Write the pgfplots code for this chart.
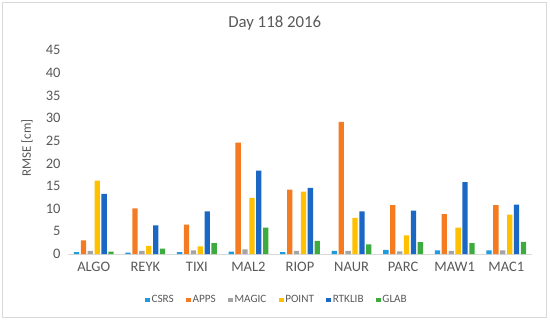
\documentclass[border=0pt]{standalone}
\usepackage{pgfplots}
\pgfplotsset{compat=1.18}
\usepackage{pgfplotstable}
\usepackage{fontspec}
\setmainfont{Carlito}
\definecolor{txt}{HTML}{595959}
\definecolor{cCSRS}{HTML}{1F9BDE}
\definecolor{cAPPS}{HTML}{F57B22}
\definecolor{cMAGIC}{HTML}{A5A5A5}
\definecolor{cPOINT}{HTML}{FFC000}
\definecolor{cRTK}{HTML}{1A68C4}
\definecolor{cGLAB}{HTML}{3DAB3D}
\definecolor{frame}{HTML}{D9D9D9}
\pgfplotstableread{
x CSRS APPS MAGIC POINT RTKLIB GLAB
0 0.4 3.0 0.7 16.2 13.3 0.5
1 0.3 10.1 0.7 1.8 6.3 1.2
2 0.4 6.5 0.8 1.7 9.4 2.4
3 0.5 24.6 1.0 12.4 18.4 5.8
4 0.4 14.2 0.7 13.8 14.6 2.9
5 0.7 29.2 0.7 8.0 9.4 2.1
6 0.9 10.8 0.6 4.1 9.6 2.6
7 0.8 8.8 0.7 5.8 15.9 2.4
8 0.8 10.8 0.8 8.7 10.9 2.7
}\data
\begin{document}
\begin{tikzpicture}[x=1bp,y=1bp]
\useasboundingbox (0,0) rectangle (550,322);
\draw[frame, line width=1bp] (2.5,4.5) rectangle (546.5,319.5);
\node[txt, font=\fontsize{16.8bp}{20bp}\selectfont] at (274.7,299.2) {Day 118 2016};
\node[txt, rotate=90, font=\fontsize{13bp}{16bp}\selectfont] at (27,174) {RMSE [cm]};
\begin{axis}[
  at={(68bp,68bp)}, anchor=south west,
  scale only axis, width=464bp, height=203.7bp,
  xmin=-0.5, xmax=8.5, ymin=0, ymax=45,
  ybar=1.6bp, bar width=5.3bp,
  xtick={0,...,8},
  xticklabels={ALGO,REYK,TIXI,MAL2,RIOP,NAUR,PARC,MAW1,MAC1},
  ytick={0,5,...,45},
  major tick length=0pt,
  separate axis lines,
  axis x line*=bottom, axis y line*=left,
  x axis line style={draw=frame, line width=1bp, -},
  y axis line style={draw=none},
  /pgf/number format/assume math mode=true,
  every tick label/.append style={txt, inner sep=0pt, font=\fontsize{14.5bp}{17bp}\selectfont},
  yticklabel style={anchor=east, xshift=-7.3bp},
  xticklabel style={anchor=north, yshift=-8.3bp},
  legend columns=6,
  legend style={at={(0.45,-0.226)}, anchor=center, draw=none, fill=none,
    font=\fontsize{11.2bp}{13bp}\selectfont, text=txt,
    /tikz/every even column/.append style={column sep=11bp},
    nodes={inner xsep=1.5bp, inner ysep=0pt}},
  legend image code/.code={\fill[#1, draw=none] (0bp,-2.4bp) rectangle (4.8bp,2.4bp);},
]
\addplot[fill=cCSRS, draw=none] table[x=x, y=CSRS]{\data};
\addplot[fill=cAPPS, draw=none] table[x=x, y=APPS]{\data};
\addplot[fill=cMAGIC, draw=none] table[x=x, y=MAGIC]{\data};
\addplot[fill=cPOINT, draw=none] table[x=x, y=POINT]{\data};
\addplot[fill=cRTK, draw=none] table[x=x, y=RTKLIB]{\data};
\addplot[fill=cGLAB, draw=none] table[x=x, y=GLAB]{\data};
\legend{CSRS,APPS,MAGIC,POINT,RTKLIB,GLAB}
\end{axis}
\end{tikzpicture}
\end{document}
